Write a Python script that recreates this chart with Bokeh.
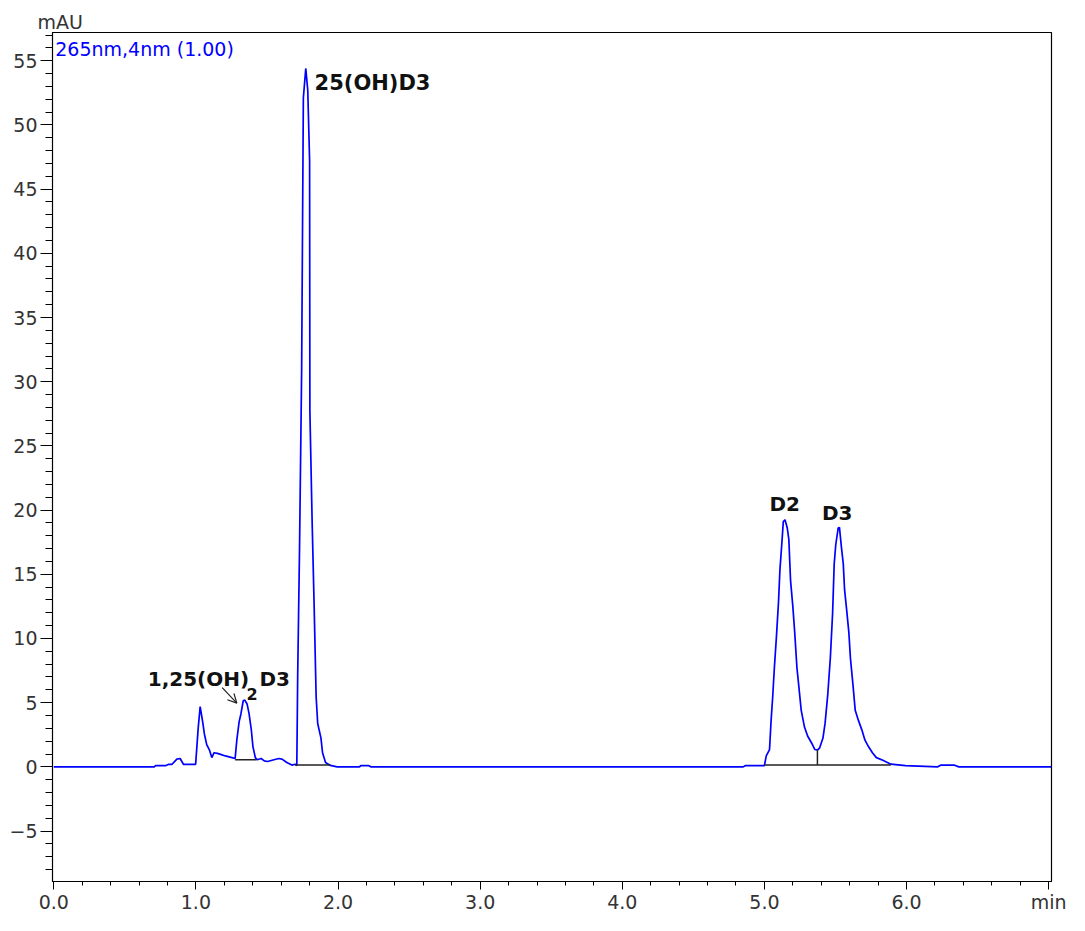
from bokeh.plotting import figure
from bokeh.models import Range1d, SingleIntervalTicker, PrintfTickFormatter, Label, Arrow, OpenHead
from bokeh.embed import file_html
from bokeh.resources import INLINE

# Chromatogram trace (time in min, absorbance in mAU)
time_min = [0.0, 0.707, 0.716, 0.786, 0.809, 0.832, 0.866, 0.889, 0.912, 0.998,
            1.016, 1.030, 1.049, 1.059, 1.076, 1.094, 1.112, 1.128, 1.151, 1.174,
            1.207, 1.254, 1.276, 1.288, 1.304, 1.317, 1.333, 1.344, 1.360, 1.374,
            1.390, 1.401, 1.418, 1.431, 1.459, 1.481, 1.504, 1.549, 1.584, 1.606,
            1.640, 1.675, 1.698, 1.710, 1.716, 1.729, 1.744, 1.756, 1.773, 1.787,
            1.800, 1.802, 1.818, 1.832, 1.846, 1.857, 1.880, 1.891, 1.912, 1.946,
            1.994, 2.151, 2.160, 2.213, 2.233, 4.851, 4.864, 5.000,
            5.013, 5.036, 5.047, 5.058, 5.070, 5.085, 5.099, 5.109, 5.122, 5.133,
            5.145, 5.161, 5.172, 5.184, 5.200, 5.213, 5.229, 5.241, 5.259, 5.282,
            5.304, 5.332, 5.355, 5.373, 5.389, 5.412, 5.427, 5.446, 5.464, 5.480,
            5.491, 5.502, 5.519, 5.528, 5.542, 5.555, 5.564, 5.578, 5.594, 5.605,
            5.623, 5.639, 5.662, 5.685, 5.707, 5.731, 5.760, 5.788, 5.833, 5.890,
            5.993, 6.220, 6.243, 6.334, 6.368, 7.02]
absorbance_mau = [0.0, 0.0, 0.09, 0.09, 0.2, 0.2, 0.6, 0.65, 0.2, 0.2,
                  3.0, 4.7, 3.4, 2.6, 1.73, 1.35, 0.72, 1.1, 1.05, 0.97,
                  0.85, 0.72, 0.65, 2.1, 3.5, 4.14, 5.15, 5.2, 4.9, 4.14,
                  2.87, 1.6, 0.72, 0.55, 0.65, 0.47, 0.42, 0.55, 0.65, 0.6,
                  0.34, 0.14, 0.2, 0.11, 6.96, 16.9, 30.9, 52.1, 54.4, 52.7,
                  47.2, 27.7, 19.0, 12.5, 5.44, 3.38, 2.24, 1.1, 0.34, 0.11,
                  0.0, 0.0, 0.1, 0.1, 0.0, 0.0, 0.09, 0.1,
                  0.85, 1.35, 3.6, 5.4, 7.7, 10.2, 12.8, 15.3, 17.3, 19.1,
                  19.25, 18.6, 17.7, 14.5, 12.5, 10.5, 7.7, 6.4, 4.4, 3.1,
                  2.4, 1.86, 1.35, 1.31, 1.48, 2.24, 3.4, 5.67, 8.5, 12.0,
                  15.8, 17.3, 18.6, 18.65, 17.1, 15.8, 13.8, 12.3, 10.5, 8.5,
                  6.4, 4.4, 3.6, 2.9, 2.1, 1.6, 1.1, 0.72, 0.52, 0.21,
                  0.09, 0.0, 0.14, 0.14, 0.0, 0.0]

# Integration baselines (start time, end time, level) and drop line
baseline_start = [1.276, 1.698, 5.001]
baseline_end = [1.425, 1.946, 5.890]
baseline_level = [0.55, 0.14, 0.14]
drop_time = [5.373]
drop_bottom = [0.14]
drop_top = [1.31]

# Peak names
peak_names = ["25(OH)D3", "D2", "D3"]
peak_label_t = [1.835, 5.036, 5.405]
peak_label_v = [53.3, 20.5, 19.8]
peak_label_size = ["21px", "20px", "20px"]

x_ticks_major = 1.0
y_ticks_major = 5
x_unit = "min"
y_unit = "mAU"
channel = "265nm,4nm (1.00)"

FONT = "DejaVu Sans"

p = figure(width=1069, height=915, output_backend="svg", toolbar_location=None,
           x_range=Range1d(-0.009, 7.02), y_range=Range1d(-8.93, 57.2),
           min_border_left=52, min_border_right=18, min_border_top=32, min_border_bottom=29,
           background_fill_color="white", border_fill_color="white")

# "mAU" caption above the y axis
p.title.text = y_unit
p.title.align = "left"
p.title.offset = -15
p.title.standoff = 0
p.title.text_font = FONT
p.title.text_font_size = "19px"
p.title.text_font_style = "normal"
p.title.text_color = "#333333"

p.xgrid.visible = False
p.ygrid.visible = False
p.outline_line_color = "black"
p.outline_line_width = 1.2

p.xaxis.ticker = SingleIntervalTicker(interval=x_ticks_major, num_minor_ticks=5)
p.yaxis.ticker = SingleIntervalTicker(interval=y_ticks_major, num_minor_ticks=5)
p.xaxis.formatter = PrintfTickFormatter(format="%.1f")
p.xaxis.major_label_overrides = {7: x_unit}

for ax in (p.xaxis[0], p.yaxis[0]):
    ax.axis_line_color = "black"
    ax.major_tick_line_color = "black"
    ax.minor_tick_line_color = "black"
    ax.major_tick_in = 0
    ax.minor_tick_in = 0
    ax.major_label_text_font = FONT
    ax.major_label_text_font_size = "19px"
    ax.major_label_text_color = "#333333"
p.xaxis.major_tick_out = 8
p.xaxis.minor_tick_out = 4
p.xaxis.major_label_standoff = 1
p.yaxis.major_tick_out = 12
p.yaxis.minor_tick_out = 7
p.yaxis.major_label_standoff = 3

# trace
p.line(time_min, absorbance_mau, line_color="#0000FF", line_width=1.7)

# baselines
p.segment(x0=baseline_start, y0=baseline_level, x1=baseline_end, y1=baseline_level,
          line_color="#222222", line_width=1.5)
p.segment(x0=drop_time, y0=drop_bottom, x1=drop_time, y1=drop_top,
          line_color="#222222", line_width=1.5)

# channel legend
p.add_layout(Label(x=0.01, y=55.9, text=channel, text_font=FONT,
                   text_font_size="19px", text_color="#0000FF", text_baseline="alphabetic"))

# peak labels
for name, tx, ty, fs in zip(peak_names, peak_label_t, peak_label_v, peak_label_size):
    p.add_layout(Label(x=tx, y=ty, text=name, text_font=FONT, text_font_size=fs,
                       text_font_style="bold", text_color="#111111", text_baseline="alphabetic"))

# 1,25(OH)2D3 label with subscript
p.add_layout(Label(x=0.661, y=6.81, text="1,25(OH)", text_font=FONT, text_font_size="20px",
                   text_font_style="bold", text_color="#111111", text_baseline="alphabetic"))
p.add_layout(Label(x=1.356, y=5.67, text="2", text_font=FONT, text_font_size="16px",
                   text_font_style="bold", text_color="#111111", text_baseline="alphabetic"))
p.add_layout(Label(x=1.447, y=6.81, text="D3", text_font=FONT, text_font_size="20px",
                   text_font_style="bold", text_color="#111111", text_baseline="alphabetic"))
p.add_layout(Arrow(end=OpenHead(size=9, line_width=1.2, line_color="#222222"),
                   x_start=1.185, y_start=6.17, x_end=1.288, y_end=4.96,
                   line_color="#222222", line_width=1.2))

open("out.html", "w").write(file_html(p, INLINE))
